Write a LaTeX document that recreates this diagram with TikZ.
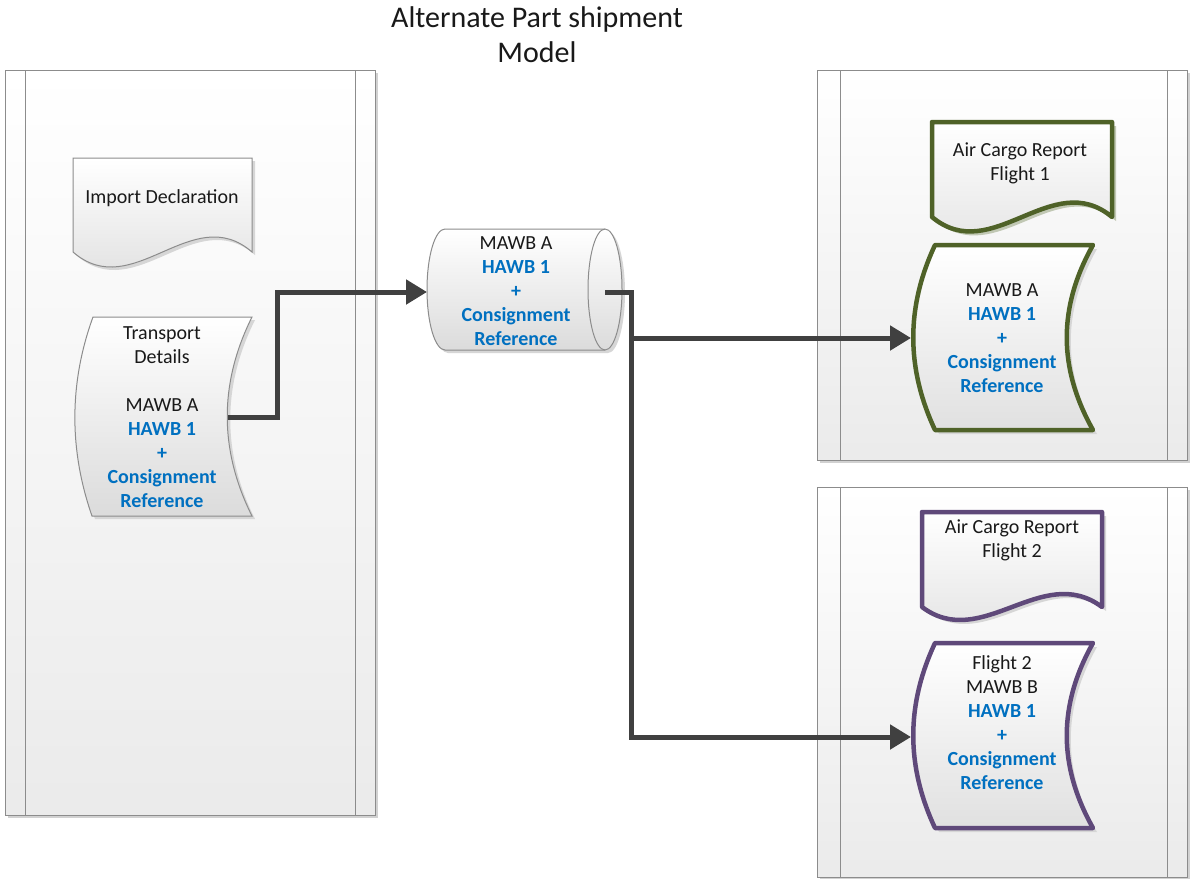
\documentclass[tikz,border=0pt]{standalone}
\usepackage{fontspec}
\setmainfont{Carlito}
\usetikzlibrary{arrows.meta}
\definecolor{conncol}{HTML}{404040}
\definecolor{bluetxt}{HTML}{0070C0}
\definecolor{greenb}{HTML}{4F6228}
\definecolor{purpleb}{HTML}{5F497A}
\definecolor{edgegray}{HTML}{8C8C8C}
\newcommand\bluebf[1]{\textcolor{bluetxt}{\bfseries #1}}
\newcommand\importshape[1]{\path[#1] (73,158) -- (252,158) -- (252,252) .. controls (192,200) and (133,304) .. (73,252) -- cycle;}
\newcommand\transportshape[1]{\path[#1] (93,317) -- (252,317) .. controls (219,383) and (219,450) .. (252,516) -- (92,516) .. controls (69,450) and (69,383) .. (93,317) -- cycle;}
\newcommand\acrAshape[1]{\path[#1] (932,122) -- (1112,122) -- (1112,217) .. controls (1052,167) and (992,267) .. (932,217) -- cycle;}
\newcommand\acrBshape[1]{\path[#1] (922,512) -- (1102,512) -- (1102,607) .. controls (1042,562) and (982,652) .. (922,607) -- cycle;}
\newcommand\tapeAshape[1]{\path[#1] (935,245) -- (1093,245) .. controls (1058,307) and (1058,368) .. (1093,430) -- (935,430) .. controls (906,368) and (906,307) .. (935,245) -- cycle;}
\newcommand\tapeBshape[1]{\path[#1] (935,643) -- (1093,643) .. controls (1058,705) and (1058,766) .. (1093,828) -- (935,828) .. controls (906,766) and (906,705) .. (935,643) -- cycle;}
\newcommand\cylshape[1]{\path[#1] (445,229) -- (605,229) arc (-90:90:17 and 60.5) -- (445,350) arc (90:270:18 and 60.5) -- cycle;}
\begin{document}
\begin{tikzpicture}[x=1pt,y=-1pt,
  panelbox/.style={draw=edgegray, line width=1pt, top color=white, bottom color=black!8},
  panelline/.style={draw=edgegray, line width=1pt},
  shapebox/.style={draw=edgegray, line width=1pt, top color=white, bottom color=black!14},
  greenbox/.style={draw=greenb, line width=4.5pt, line join=round, top color=white, bottom color=black!12},
  purplebox/.style={draw=purpleb, line width=4.5pt, line join=round, top color=white, bottom color=black!12},
  shadowbox/.style={fill=black!16, draw=none},
  greenshadow/.style={fill=greenb!35, draw=none},
  txt/.style={align=center, font=\fontsize{20}{24}\selectfont, text=black!90, inner sep=0pt},
  titletxt/.style={align=center, font=\fontsize{30}{35}\selectfont, text=black!90, inner sep=0pt},
  conn/.style={draw=conncol, line width=5pt},
  arr/.style={-{Triangle[length=21pt,width=24pt]}}
]
\fill[white] (0,0) rectangle (1192,879);
\useasboundingbox (0,0) rectangle (1192,879);

% swimlane panels
\fill[black!18] (8,73) rectangle (378,818);
\path[panelbox] (5,70) rectangle (375,815);
\draw[panelline] (25,70) -- (25,815);
\draw[panelline] (355,70) -- (355,815);

\fill[black!18] (820,73) rectangle (1190,463);
\path[panelbox] (817,70) rectangle (1187,460);
\draw[panelline] (840,70) -- (840,460);
\draw[panelline] (1167,70) -- (1167,460);

\fill[black!18] (820,490) rectangle (1190,879);
\path[panelbox] (817,487) rectangle (1187,877);
\draw[panelline] (840,487) -- (840,877);
\draw[panelline] (1167,487) -- (1167,877);

% shapes
\importshape{shadowbox,shift={(3,3)}}
\importshape{shapebox}
\transportshape{shadowbox,shift={(3,3)}}
\transportshape{shapebox}
\cylshape{shadowbox,shift={(3,3)}}
\cylshape{shapebox}
\draw[edgegray, line width=1pt] (605,229) arc (270:90:17 and 60.5);

\acrAshape{greenshadow,shift={(4,4)}}
\acrAshape{greenbox}
\tapeAshape{shadowbox,shift={(4,4)}}
\tapeAshape{greenbox}
\acrBshape{shadowbox,shift={(4,4)}}
\acrBshape{purplebox}
\tapeBshape{shadowbox,shift={(4,4)}}
\tapeBshape{purplebox}

% texts
\node[titletxt] (title) at (537,35) {Alternate Part shipment\\Model};
\node[txt] (imp) at (162,198) {Import Declaration};
\node[txt] (td) at (162,417) {Transport\\Details\\[24pt]MAWB A\\\bluebf{HAWB 1}\\\bluebf{+}\\\bluebf{Consignment}\\\bluebf{Reference}};
\node[txt] (cyl) at (516,291) {MAWB A\\\bluebf{HAWB 1}\\\bluebf{+}\\\bluebf{Consignment}\\\bluebf{Reference}};
\node[txt] (acr1) at (1020,163) {Air Cargo Report\\Flight 1};
\node[txt] (g2) at (1002,338) {MAWB A\\\bluebf{HAWB 1}\\\bluebf{+}\\\bluebf{Consignment}\\\bluebf{Reference}};
\node[txt] (acr2) at (1012,540) {Air Cargo Report\\Flight 2};
\node[txt] (p2) at (1002,723) {Flight 2\\MAWB B\\\bluebf{HAWB 1}\\\bluebf{+}\\\bluebf{Consignment}\\\bluebf{Reference}};

% connector ends
\coordinate (tdR) at (228,417);
\coordinate (cylL) at (427,292);
\coordinate (cylR) at (605,292);
\coordinate (g2L) at (911,338);
\coordinate (p2L) at (911,737);

\draw[conn, arr] (tdR) -- ++(49,0) |- (cylL);
\draw[conn, arr] (cylR) -- ++(26,0) |- (g2L);
\draw[conn, arr] (cylR) -- ++(26,0) |- (p2L);
\end{tikzpicture}
\end{document}
